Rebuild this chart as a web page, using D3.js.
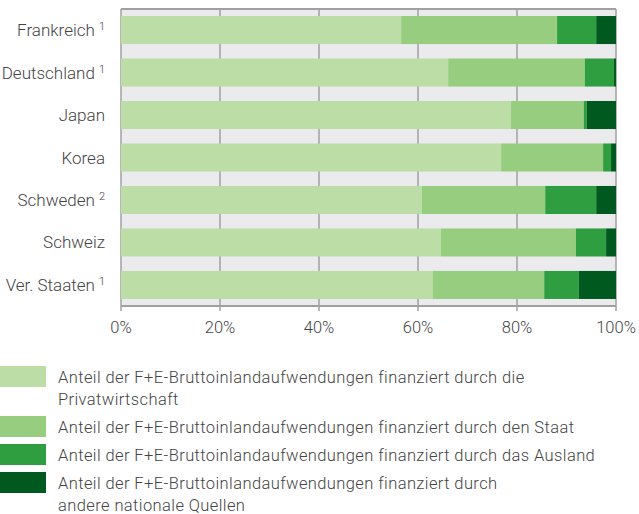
<!DOCTYPE html>
<html>
<head>
<meta charset="utf-8">
<script src="https://cdn.jsdelivr.net/npm/d3@7"></script>
<style>
  body { margin: 0; background: #fff; }
  text { font-family: Roboto, "Noto Sans", sans-serif; font-weight: 300; fill: #444; }
</style>
</head>
<body>
<div id="chart"></div>
<script>
// Daten (Anteile in %)
var countries = ['Frankreich', 'Deutschland', 'Japan', 'Korea', 'Schweden', 'Schweiz', 'Ver. Staaten'];
var footnotes = ['1', '1', '', '', '2', '', '1'];
var privat  = [56.6, 66.1, 78.8, 76.8, 60.8, 64.6, 63.0];
var staat   = [31.5, 27.6, 14.7, 20.6, 24.9, 27.3, 22.5];
var ausland = [7.9, 5.9, 0.6, 1.6, 10.3, 6.1, 7.0];
var andere  = [4.0, 0.4, 5.9, 1.0, 4.0, 2.0, 7.5];
var ticks = [0, 20, 40, 60, 80, 100];
var series_keys = ['privat', 'staat', 'ausland', 'andere'];
var series_colors = ['#bcdda5', '#96cd7e', '#2f9e41', '#005a1f'];
var legend_labels = [
    ['Anteil der F+E-Bruttoinlandaufwendungen finanziert durch die', 'Privatwirtschaft'],
    ['Anteil der F+E-Bruttoinlandaufwendungen finanziert durch den Staat'],
    ['Anteil der F+E-Bruttoinlandaufwendungen finanziert durch das Ausland'],
    ['Anteil der F+E-Bruttoinlandaufwendungen finanziert durch', 'andere nationale Quellen']
];

var width = 639, height = 514;
var margin = {top: 9, left: 121, right: 23, bottom: 208};

var svg = d3.select('#chart').append('svg')
    .attr('width', width)
    .attr('height', height);

var table = countries.map(function(c, i) {
    return {country: c, privat: privat[i], staat: staat[i], ausland: ausland[i], andere: andere[i]};
});

var x = d3.scaleLinear().domain([0, 100]).range([margin.left, width - margin.right]);
var y = d3.scaleBand().domain(countries)
    .range([margin.top, height - margin.bottom])
    .paddingInner(0.34).paddingOuter(0.165);

// Hintergrund
svg.append('rect')
    .attr('x', x(0)).attr('y', margin.top)
    .attr('width', x(100) - x(0)).attr('height', height - margin.bottom - margin.top)
    .attr('fill', '#ebebed');

// Gitterlinien + Ticks
svg.append('g').selectAll('line').data(ticks)
    .enter().append('line')
    .attr('x1', function(d) { return x(d); })
    .attr('x2', function(d) { return x(d); })
    .attr('y1', margin.top)
    .attr('y2', height - margin.bottom + 5)
    .attr('stroke', '#a0a0a2')
    .attr('stroke-width', 1.5);

// Rahmen oben/unten
svg.append('line')
    .attr('x1', x(0)).attr('x2', x(100))
    .attr('y1', margin.top).attr('y2', margin.top)
    .attr('stroke', '#a0a0a2').attr('stroke-width', 2);
svg.append('line')
    .attr('x1', x(0)).attr('x2', x(100))
    .attr('y1', height - margin.bottom).attr('y2', height - margin.bottom)
    .attr('stroke', '#a0a0a2').attr('stroke-width', 2);

// Gestapelte Balken
var stack = d3.stack().keys(series_keys);
var stacked = stack(table);

svg.append('g').selectAll('g').data(stacked)
    .enter().append('g')
    .attr('fill', function(d, i) { return series_colors[i]; })
    .selectAll('rect').data(function(d) { return d; })
    .enter().append('rect')
    .attr('x', function(d) { return x(d[0]); })
    .attr('y', function(d) { return y(d.data.country); })
    .attr('width', function(d) { return x(d[1]) - x(d[0]); })
    .attr('height', y.bandwidth());

// x-Achse Beschriftung
svg.append('g').selectAll('text').data(ticks)
    .enter().append('text')
    .attr('x', function(d) { return x(d); })
    .attr('y', height - margin.bottom + 27)
    .attr('text-anchor', 'middle')
    .style('font-size', '16.5px')
    .text(function(d) { return d + '%'; });

// y-Achse Beschriftung
var ylab = svg.append('g').selectAll('text').data(countries)
    .enter().append('text')
    .attr('x', 105)
    .attr('y', function(d) { return y(d) + y.bandwidth() / 2 + 6; })
    .attr('text-anchor', 'end')
    .style('font-size', '17px');
ylab.append('tspan').text(function(d) { return d; });
ylab.append('tspan')
    .attr('dx', 4)
    .attr('dy', -6)
    .style('font-size', '11px')
    .text(function(d, i) { return footnotes[i]; });

// Legende
var legend_y = [366, 416, 444, 472];
var legend = svg.append('g').selectAll('g').data(legend_labels)
    .enter().append('g')
    .attr('transform', function(d, i) { return 'translate(0,' + legend_y[i] + ')'; });
legend.append('rect')
    .attr('x', 0).attr('y', 0)
    .attr('width', 46).attr('height', 21)
    .attr('fill', function(d, i) { return series_colors[i]; });
legend.append('text')
    .attr('x', 58)
    .attr('y', 16.5)
    .style('font-size', '16.5px')
    .style('letter-spacing', '0.4px')
    .selectAll('tspan').data(function(d) { return d; })
    .enter().append('tspan')
    .attr('x', 58)
    .attr('dy', function(d, i) { return i === 0 ? 0 : 22.7; })
    .text(function(d) { return d; });
</script>
</body>
</html>
